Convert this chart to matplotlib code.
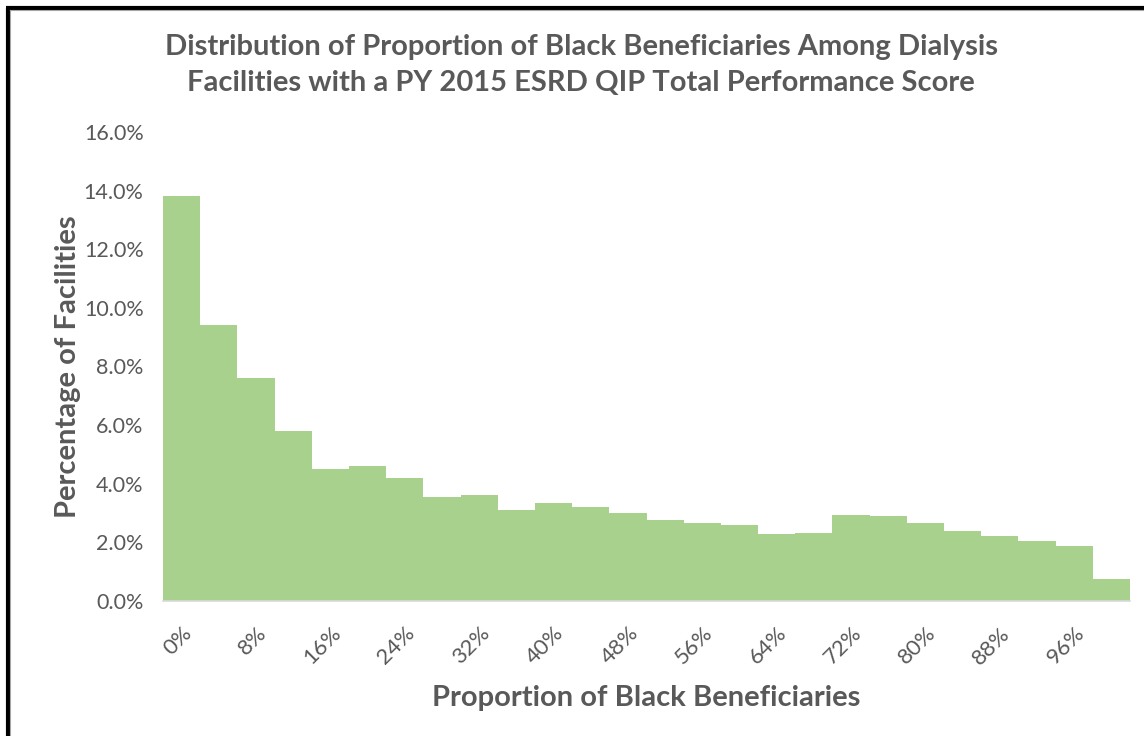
import matplotlib
matplotlib.use("Agg")
import matplotlib.pyplot as plt
import numpy as np
from matplotlib.lines import Line2D

# Share of facilities in each 4%-wide bin of Black beneficiary proportion
bin_starts = [0, 4, 8, 12, 16, 20, 24, 28, 32, 36, 40, 44, 48,
              52, 56, 60, 64, 68, 72, 76, 80, 84, 88, 92, 96, 100]
pct_facilities = [13.8, 9.4, 7.6, 5.8, 4.5, 4.6, 4.2, 3.55, 3.6, 3.1, 3.35, 3.2, 3.0,
                  2.75, 2.65, 2.6, 2.3, 2.32, 2.95, 2.9, 2.65, 2.38, 2.22, 2.05, 1.88, 0.75]
tick_labels = [f"{v}%" for v in bin_starts[::2]]
y_ticks = [0, 2, 4, 6, 8, 10, 12, 14, 16]

plt.rcParams['font.family'] = ['Lato', 'DejaVu Sans']
text_gray = '#595959'

fig = plt.figure(figsize=(11.44, 7.36), dpi=100)
ax = fig.add_axes([163/1144, 1 - 601/736, (1130 - 163)/1144, (601 - 132)/736])

x = np.arange(len(bin_starts))
ax.bar(x, pct_facilities, width=1.0, color='#A9D18E', edgecolor='none')
ax.set_xlim(-0.5, len(bin_starts) - 0.5)
ax.set_ylim(0, 16)

ax.set_yticks(y_ticks)
ax.set_yticklabels([f"{v:.1f}%" for v in y_ticks], fontsize=15.5, color=text_gray)
ax.set_xticks(x[::2][:len(tick_labels)])
ax.set_xticklabels(tick_labels, rotation=45, ha='right', rotation_mode='anchor',
                   fontsize=16, color=text_gray)
ax.tick_params(axis='both', length=0)
ax.tick_params(axis='y', pad=14)
ax.tick_params(axis='x', pad=16)

for side in ['top', 'right', 'left']:
    ax.spines[side].set_visible(False)
ax.spines['bottom'].set_color('#d9d9d9')
ax.spines['bottom'].set_linewidth(1.2)

ax.set_xlabel("Proportion of Black Beneficiaries", fontsize=21, fontweight='bold',
              color=text_gray, labelpad=12)
ax.set_ylabel("Percentage of Facilities", fontsize=21, fontweight='bold',
              color=text_gray, labelpad=2)

fig.text(0.508, 1 - 65/736,
         "Distribution of Proportion of Black Beneficiaries Among Dialysis\n"
         "Facilities with a PY 2015 ESRD QIP Total Performance Score",
         ha='center', va='center', fontsize=21, fontweight='bold', color=text_gray,
         linespacing=1.5)

# Outer frame (left and top edges)
fig.add_artist(Line2D([7.5/1144, 7.5/1144], [0, 1 - 7.5/736], color='black', lw=3,
                      transform=fig.transFigure, solid_capstyle='butt'))
fig.add_artist(Line2D([6/1144, 1], [1 - 7.5/736, 1 - 7.5/736], color='black', lw=3,
                      transform=fig.transFigure, solid_capstyle='butt'))
fig.add_artist(Line2D([10/1144, 10/1144], [0, 1 - 10/736], color='#a6a6a6', lw=0.8,
                      transform=fig.transFigure))
fig.add_artist(Line2D([10/1144, 1], [1 - 10/736, 1 - 10/736], color='#a6a6a6', lw=0.8,
                      transform=fig.transFigure))

fig.savefig("out.png", dpi=100)
